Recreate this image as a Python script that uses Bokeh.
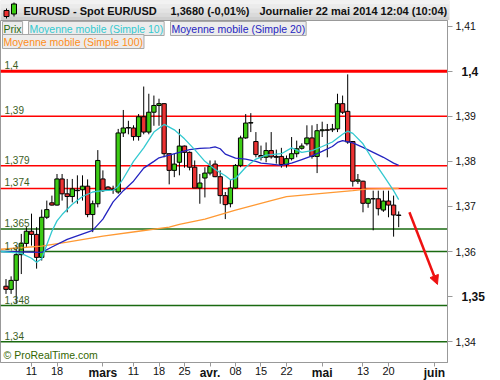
from bokeh.plotting import figure
from bokeh.models import Range1d, Label, FixedTicker, Arrow, NormalHead, ColumnDataSource, LinearAxis
from bokeh.layouts import column
from bokeh.embed import file_html
from bokeh.resources import INLINE

FONT = "Liberation Sans"

# ---------------- data ----------------
day = list(range(1, 79))
opens = [1.3523, 1.3516, 1.3536, 1.3593, 1.3618, 1.3645, 1.3638, 1.3587, 1.3676, 1.3708,
         1.3703, 1.3761, 1.3728, 1.3722, 1.3735, 1.3737, 1.3745, 1.3682, 1.3706, 1.3761,
         1.3743, 1.3738, 1.3732, 1.3863, 1.3874, 1.3874, 1.3855, 1.3899, 1.3865, 1.3909,
         1.3924, 1.3928, 1.3817, 1.3780, 1.3798, 1.3834, 1.3820, 1.3787, 1.3741, 1.3763,
         1.3774, 1.3794, 1.3766, 1.3724, 1.3706, 1.3741, 1.3791, 1.3852, 1.3885, 1.3844,
         1.3813, 1.3809, 1.3824, 1.3811, 1.3811, 1.3793, 1.3806, 1.3817, 1.3829, 1.3839,
         1.3852, 1.3811, 1.3868, 1.3870, 1.3870, 1.3872, 1.3928, 1.3911, 1.3844, 1.3756,
         1.3756, 1.3707, 1.3717, 1.3717, 1.3692, 1.3712, 1.3703, 1.3681]
highs = [1.3539, 1.3545, 1.3613, 1.3639, 1.3654, 1.3684, 1.3654, 1.3693, 1.3713, 1.3724,
         1.3772, 1.3772, 1.3761, 1.3761, 1.3769, 1.3769, 1.3760, 1.3713, 1.3825, 1.3780,
         1.3745, 1.3746, 1.3872, 1.3914, 1.3890, 1.3880, 1.3905, 1.3966, 1.3950, 1.3946,
         1.3939, 1.3929, 1.3817, 1.3817, 1.3872, 1.3835, 1.3822, 1.3802, 1.3772, 1.3787,
         1.3802, 1.3802, 1.3780, 1.3732, 1.3759, 1.3794, 1.3857, 1.3905, 1.3907, 1.3865,
         1.3835, 1.3842, 1.3865, 1.3826, 1.3830, 1.3813, 1.3854, 1.3846, 1.3840, 1.3880,
         1.3880, 1.3883, 1.3888, 1.3883, 1.3883, 1.3950, 1.3946, 1.3993, 1.3844, 1.3772,
         1.3757, 1.3719, 1.3735, 1.3735, 1.3735, 1.3735, 1.3724, 1.3689]
lows = [1.3506, 1.3506, 1.3484, 1.3550, 1.3610, 1.3613, 1.3562, 1.3580, 1.3672, 1.3702,
        1.3702, 1.3713, 1.3687, 1.3709, 1.3706, 1.3713, 1.3676, 1.3643, 1.3698, 1.3732,
        1.3735, 1.3728, 1.3728, 1.3854, 1.3860, 1.3846, 1.3846, 1.3860, 1.3860, 1.3879,
        1.3879, 1.3809, 1.3749, 1.3765, 1.3769, 1.3786, 1.3780, 1.3741, 1.3706, 1.3720,
        1.3769, 1.3765, 1.3706, 1.3672, 1.3698, 1.3739, 1.3787, 1.3850, 1.3865, 1.3809,
        1.3802, 1.3798, 1.3806, 1.3795, 1.3786, 1.3786, 1.3802, 1.3809, 1.3826, 1.3835,
        1.3806, 1.3774, 1.3854, 1.3809, 1.3865, 1.3865, 1.3905, 1.3839, 1.3744, 1.3750,
        1.3687, 1.3697, 1.3647, 1.3680, 1.3688, 1.3676, 1.3633, 1.3654]
closes = [1.3516, 1.3536, 1.3593, 1.3618, 1.3645, 1.3638, 1.3587, 1.3676, 1.3693, 1.3703,
          1.3761, 1.3728, 1.3722, 1.3739, 1.3736, 1.3745, 1.3682, 1.3706, 1.3802, 1.3735,
          1.3737, 1.3737, 1.3863, 1.3874, 1.3875, 1.3855, 1.3899, 1.3865, 1.3909, 1.3924,
          1.3928, 1.3817, 1.3780, 1.3794, 1.3834, 1.3820, 1.3787, 1.3741, 1.3752, 1.3774,
          1.3789, 1.3766, 1.3724, 1.3704, 1.3741, 1.3791, 1.3852, 1.3885, 1.3886, 1.3815,
          1.3809, 1.3824, 1.3810, 1.3809, 1.3793, 1.3806, 1.3817, 1.3828, 1.3834, 1.3852,
          1.3811, 1.3868, 1.3870, 1.3869, 1.3872, 1.3928, 1.3909, 1.3843, 1.3756, 1.3759,
          1.3707, 1.3717, 1.3717, 1.3695, 1.3712, 1.3703, 1.3681, 1.3680]

sma10_idx = [0, 2, 4, 6, 7, 8, 9, 10, 11, 12, 14, 16, 18, 20, 22, 23, 24, 26, 28, 30,
             32, 34, 36, 38, 40, 42, 44, 45, 46, 48, 50, 52, 53, 55, 57, 59, 61, 63, 65, 67,
             68, 69, 71, 73, 75, 77, 78]
sma10_val = [1.3600, 1.3598, 1.3596, 1.3585, 1.3576, 1.3584, 1.3615, 1.3645, 1.3668, 1.3682,
             1.3705, 1.3722, 1.3732, 1.3735, 1.3736, 1.3745, 1.3762, 1.3800, 1.3830, 1.3865,
             1.3882, 1.3870, 1.3850, 1.3826, 1.3800, 1.3782, 1.3768, 1.3759, 1.3762, 1.3787,
             1.3805, 1.3814, 1.3815, 1.3817, 1.3830, 1.3820, 1.3824, 1.3833, 1.3843, 1.3860,
             1.3867, 1.3862, 1.3839, 1.3802, 1.3769, 1.3735, 1.3715]
sma20_idx = [0, 8, 10, 13, 18, 20, 22, 24, 26, 28, 30, 31, 33, 35, 37, 39, 41, 42, 43, 44,
             46, 48, 50, 51, 53, 55, 57, 59, 61, 63, 65, 66, 67, 69, 71, 73, 75, 77, 78]
sma20_val = [1.3600, 1.3598, 1.3610, 1.3627, 1.3647, 1.3672, 1.3710, 1.3735, 1.3756, 1.3785,
             1.3800, 1.3808, 1.3814, 1.3820, 1.3826, 1.3829, 1.3830, 1.3832, 1.3828, 1.3816,
             1.3807, 1.3805, 1.3800, 1.3796, 1.3794, 1.3791, 1.3796, 1.3804, 1.3812, 1.3822,
             1.3833, 1.3842, 1.3846, 1.3841, 1.3831, 1.3820, 1.3809, 1.3796, 1.3791]
sma100_idx = [0, 8, 13, 20, 27, 33, 35, 40, 46, 53, 56, 63, 69, 72, 78]
sma100_val = [1.3605, 1.3612, 1.3621, 1.3634, 1.3645, 1.3654, 1.3660, 1.3672, 1.3692, 1.3713,
              1.3722, 1.3729, 1.3735, 1.3739, 1.3740]

xtick_pos = [6, 11, 20, 26, 31, 36, 41, 46, 51, 56, 63, 71, 76, 85]
xtick_labels = ["11", "18", "mars", "11", "18", "25", "avr.", "08", "15", "22", "mai", "13", "20", "juin"]
xtick_bold = [False, False, True, False, False, False, True, False, False, False, True, False, False, True]

ytick_vals = [1.34, 1.35, 1.36, 1.37, 1.38, 1.39, 1.40, 1.41]
ytick_labels = ["1,34", "1,35", "1,36", "1,37", "1,38", "1,39", "1,4", "1,41"]
ytick_bold = [False, True, False, False, False, False, True, False]

levels = [1.40, 1.39, 1.379, 1.374, 1.365, 1.36, 1.348, 1.34]
level_labels = ["1,4", "1,39", "1,379", "1,374", "1,365", "1,36", "1,348", "1,34"]
level_is_resistance = [True, True, True, True, False, False, False, False]

legend_names = ["Prix", "Moyenne mobile (Simple 10)", "Moyenne mobile (Simple 20)", "Moyenne mobile (Simple 100)"]

title_parts = ["EURUSD - Spot EUR/USD", "1,3680 (-0,01%)", "Journalier  22 mai 2014 12:04 (10:04)"]

# ---------------- styles / geometry ----------------
GREEN = "#3ccc14"
RED = "#ec3232"
C10 = "#33c9d0"
C20 = "#2424c0"
C100 = "#ff9933"
LEVEL_TXT = "#3b5e1e"
AXIS_GRAY = "#999999"

XMIN, XMAX = -0.08, 87.57
YMIN, YMAX = 1.33538, 1.41125

# ---------------- header ----------------
hdr = figure(frame_width=449, frame_height=20, x_range=Range1d(0, 449), y_range=Range1d(0, 20),
             toolbar_location=None, output_backend="svg", x_axis_location=None,
             y_axis_location=None, min_border=0, min_border_right=51)
hdr.grid.visible = False
hdr.outline_line_color = None
hdr.background_fill_color = "#e2e2e2"
band_bottom = [0, 4, 8, 12, 16]
band_top = [4, 8, 12, 16, 20]
band_col = ["#cfcfcf", "#dadada", "#e3e3e3", "#ebebeb", "#f2f2f2"]
hdr.quad(left=0, right=449, bottom=band_bottom, top=band_top, fill_color=band_col, line_color=None)
hdr.segment(x0=[6, 13.5], y0=[2, 4], x1=[6, 13.5], y1=[12, 18], line_color="black", line_width=1)
hdr.quad(left=[3.5, 11], right=[8.5, 16], bottom=[4, 6.5], top=[10, 16.5],
         fill_color=[RED, GREEN], line_color="black", line_width=1)
for tx, xpos in zip(title_parts, [23, 170, 259]):
    hdr.add_layout(Label(x=xpos, y=10, text=tx, text_baseline="middle", text_font=FONT,
                         text_font_size="11px", text_font_style="bold", text_color="#111111"))

# ---------------- main chart ----------------
p = figure(frame_width=447, frame_height=342, x_range=Range1d(XMIN, XMAX), y_range=Range1d(YMIN, YMAX),
           x_axis_location=None, y_axis_location=None, toolbar_location=None,
           output_backend="svg", min_border_left=0, min_border_top=0,
           min_border_bottom=0, min_border_right=53)
p.grid.visible = False
p.outline_line_color = AXIS_GRAY
p.background_fill_color = "white"

# horizontal levels
lv_cols = ["#ff0000" if r else "#1a6a10" for r in level_is_resistance]
lv_w = [3 if lv == 1.40 else 1.5 for lv in levels]
p.segment(x0=[XMIN] * len(levels), y0=levels, x1=[XMAX] * len(levels), y1=levels,
          line_color=lv_cols, line_width=lv_w)
for lv, lab in zip(levels, level_labels):
    p.add_layout(Label(x=XMIN, y=lv, x_offset=4, y_offset=2, text=lab, text_baseline="bottom",
                       text_font=FONT, text_font_size="10px", text_color=LEVEL_TXT))

# candles
tops = [max(o, c) for o, c in zip(opens, closes)]
bots = [min(o, c) for o, c in zip(opens, closes)]
cols = [GREEN if c >= o else RED for o, c in zip(opens, closes)]
src = ColumnDataSource(dict(x=day, o=opens, h=highs, l=lows, c=closes, top=tops, bottom=bots, col=cols))
p.segment(x0="x", y0="l", x1="x", y1="h", line_color="black", line_width=1, source=src)
p.vbar(x="x", width=0.85, top="top", bottom="bottom", fill_color="col", line_color="black",
       line_width=1, source=src)

# moving averages
p.line(sma100_idx, sma100_val, line_color=C100, line_width=1.3)
p.line(sma20_idx, sma20_val, line_color=C20, line_width=1.3)
p.line(sma10_idx, sma10_val, line_color=C10, line_width=1.3)

# arrow
p.add_layout(Arrow(x_start=80.1, y_start=1.3687, x_end=85.6, y_end=1.3527,
                   line_color="#ee1111", line_width=2.5,
                   end=NormalHead(size=9, fill_color="#ee1111", line_color="#ee1111")))

# legend boxes
leg_cols = ["#2a6a10", C10, C20, "#ff8c1a"]
leg_x = [2, 28, 170, 2]
leg_y = [-1, -1, -1, -14]
for name, col, lx, ly in zip(legend_names, leg_cols, leg_x, leg_y):
    p.add_layout(Label(x=XMIN, y=YMAX, x_offset=lx, y_offset=ly, text=name, text_baseline="top",
                       text_font=FONT, text_font_size="10.5px", text_color=col,
                       background_fill_color="#ececec", border_line_color="#a8a8a8",
                       padding=1))

p.add_layout(Label(x=XMIN, y=YMIN, x_offset=3, y_offset=2, text="\u00a9 ProRealTime.com",
                   text_baseline="bottom", text_font=FONT, text_font_size="10.5px",
                   text_color="#336600"))

# ---------------- axes ----------------
def style_axis(ax, tick_out, standoff, size, bold, show_line):
    ax.axis_line_color = AXIS_GRAY if show_line else None
    ax.major_tick_line_color = AXIS_GRAY if show_line else None
    ax.major_tick_out = tick_out
    ax.major_tick_in = 0
    ax.minor_tick_line_color = None
    ax.major_label_standoff = standoff
    ax.major_label_text_font = FONT
    ax.major_label_text_font_size = size
    ax.major_label_text_font_style = "bold" if bold else "normal"
    ax.major_label_text_color = "#111111"

# inner axes: ticks + regular labels
xa_days = LinearAxis(ticker=FixedTicker(ticks=xtick_pos),
                     major_label_overrides={pos: ("" if b else lab)
                                            for pos, lab, b in zip(xtick_pos, xtick_labels, xtick_bold)})
style_axis(xa_days, 4, 0, "11px", False, True)
ya_norm = LinearAxis(ticker=FixedTicker(ticks=ytick_vals),
                     major_label_overrides={v: ("" if b else lab)
                                            for v, lab, b in zip(ytick_vals, ytick_labels, ytick_bold)})
style_axis(ya_norm, 5, 3, "10.5px", False, True)

# outer axes: bold labels pulled back onto the same line as the regular ones
month_pos = [pos for pos, b in zip(xtick_pos, xtick_bold) if b]
xa_months = LinearAxis(ticker=FixedTicker(ticks=month_pos),
                       major_label_overrides={pos: lab for pos, lab, b in zip(xtick_pos, xtick_labels, xtick_bold) if b})
style_axis(xa_months, 0, -12, "12px", True, False)
bold_vals = [v for v, b in zip(ytick_vals, ytick_bold) if b]
ya_bold = LinearAxis(ticker=FixedTicker(ticks=bold_vals),
                     major_label_overrides={v: lab for v, lab, b in zip(ytick_vals, ytick_labels, ytick_bold) if b})
style_axis(ya_bold, 0, -17, "12px", True, False)

p.add_layout(xa_days, "below")
p.add_layout(xa_months, "below")
p.add_layout(ya_norm, "right")
p.add_layout(ya_bold, "right")

layout = column(hdr, p, spacing=0)
open("out.html", "w").write(file_html(layout, INLINE))
